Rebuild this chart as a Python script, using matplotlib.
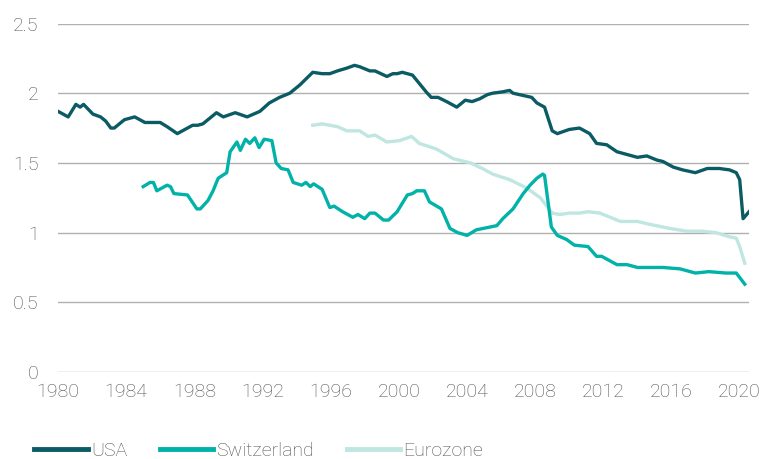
import matplotlib.pyplot as plt

# values
usa_years = [1980.0, 1980.6, 1981.05, 1981.3, 1981.5, 1982.05, 1982.5, 1982.8, 1983.1, 1983.3,
             1983.9, 1984.5, 1985.1, 1986.0, 1986.4, 1987.0, 1987.45, 1987.9, 1988.2, 1988.5,
             1989.3, 1989.7, 1990.4, 1991.1, 1991.85, 1992.4, 1993.0, 1993.6, 1994.2, 1994.95,
             1995.5, 1995.95, 1996.4, 1996.95, 1997.4, 1997.7, 1998.3, 1998.6, 1999.3, 1999.65,
             1999.9, 2000.2, 2000.8, 2001.2, 2001.6, 2001.9, 2002.3, 2002.8, 2003.4, 2003.9,
             2004.3, 2004.75, 2005.2, 2005.5, 2006.1, 2006.5, 2006.7, 2007.8, 2008.1, 2008.55,
             2009.0, 2009.3, 2010.0, 2010.6, 2011.2, 2011.6, 2012.2, 2012.8, 2013.4, 2014.0,
             2014.55, 2015.15, 2015.5, 2016.1, 2016.65, 2017.4, 2018.1, 2018.8, 2019.4, 2019.8,
             2020.0, 2020.2, 2020.55]
usa_vals = [1.87, 1.83, 1.92, 1.90, 1.92, 1.85, 1.83, 1.80, 1.75, 1.75,
            1.81, 1.83, 1.79, 1.79, 1.76, 1.71, 1.74, 1.77, 1.77, 1.78,
            1.86, 1.83, 1.86, 1.83, 1.87, 1.93, 1.97, 2.00, 2.06, 2.15,
            2.14, 2.14, 2.16, 2.18, 2.20, 2.19, 2.16, 2.16, 2.12, 2.14,
            2.14, 2.15, 2.13, 2.07, 2.01, 1.97, 1.97, 1.94, 1.90, 1.95,
            1.94, 1.96, 1.99, 2.00, 2.01, 2.02, 2.00, 1.97, 1.93, 1.90,
            1.73, 1.71, 1.74, 1.75, 1.71, 1.64, 1.63, 1.58, 1.56, 1.54,
            1.55, 1.52, 1.51, 1.47, 1.45, 1.43, 1.46, 1.46, 1.45, 1.43,
            1.38, 1.10, 1.15]

swiss_years = [1985.0, 1985.4, 1985.6, 1985.8, 1986.4, 1986.6, 1986.8, 1987.6, 1988.15, 1988.35,
               1988.8, 1989.1, 1989.4, 1989.9, 1990.1, 1990.5, 1990.7, 1991.0, 1991.25, 1991.55,
               1991.8, 1992.1, 1992.55, 1992.8, 1993.1, 1993.5, 1993.8, 1994.3, 1994.55, 1994.8,
               1995.0, 1995.5, 1995.95, 1996.2, 1996.7, 1997.3, 1997.6, 1998.0, 1998.3, 1998.6,
               1999.1, 1999.4, 1999.9, 2000.25, 2000.5, 2000.8, 2001.05, 2001.5, 2001.8, 2002.5,
               2003.0, 2003.45, 2004.0, 2004.55, 2005.75, 2006.1, 2006.7, 2007.3, 2007.7, 2008.1,
               2008.45, 2008.55, 2008.95, 2009.3, 2009.85, 2010.3, 2011.1, 2011.6, 2011.9, 2012.8,
               2013.4, 2014.0, 2014.55, 2015.5, 2016.5, 2017.4, 2018.2, 2019.2, 2019.8, 2020.3]
swiss_vals = [1.33, 1.36, 1.36, 1.30, 1.34, 1.33, 1.28, 1.27, 1.17, 1.17,
              1.23, 1.30, 1.39, 1.43, 1.58, 1.65, 1.59, 1.67, 1.64, 1.68,
              1.61, 1.67, 1.66, 1.50, 1.46, 1.45, 1.36, 1.34, 1.36, 1.33,
              1.35, 1.31, 1.18, 1.19, 1.15, 1.11, 1.13, 1.10, 1.14, 1.14,
              1.09, 1.09, 1.15, 1.22, 1.27, 1.28, 1.30, 1.30, 1.22, 1.17,
              1.03, 1.00, 0.98, 1.02, 1.05, 1.10, 1.17, 1.28, 1.34, 1.39,
              1.42, 1.41, 1.04, 0.98, 0.95, 0.91, 0.90, 0.83, 0.83, 0.77,
              0.77, 0.75, 0.75, 0.75, 0.74, 0.71, 0.72, 0.71, 0.71, 0.63]

euro_years = [1994.95, 1995.5, 1996.4, 1996.95, 1997.7, 1998.2, 1998.6, 1999.3, 2000.05, 2000.75,
              2001.2, 2002.2, 2003.2, 2004.2, 2004.9, 2005.5, 2006.5, 2007.5, 2008.3, 2009.0,
              2009.45, 2010.0, 2010.6, 2011.1, 2011.8, 2012.4, 2013.0, 2014.0, 2014.7, 2015.9,
              2016.9, 2017.8, 2018.6, 2019.4, 2019.8, 2020.0, 2020.3]
euro_vals = [1.77, 1.78, 1.76, 1.73, 1.73, 1.69, 1.70, 1.65, 1.66, 1.69,
             1.64, 1.60, 1.53, 1.50, 1.46, 1.42, 1.38, 1.32, 1.25, 1.14,
             1.13, 1.14, 1.14, 1.15, 1.14, 1.11, 1.08, 1.08, 1.06, 1.03,
             1.01, 1.01, 1.00, 0.97, 0.96, 0.90, 0.78]

x_ticks = list(range(1980, 2021, 4))
y_ticks = [0, 0.5, 1, 1.5, 2, 2.5]
y_labels = ['0', '0.5', '1', '1.5', '2', '2.5']

plt.rcParams['font.family'] = ['Roboto', 'DejaVu Sans']
plt.rcParams['font.weight'] = 'light'

fig = plt.figure(figsize=(7.67, 4.59), dpi=100)
ax = fig.add_axes([0.0756, 0.1895, 0.901, 0.7593])

ax.plot(usa_years, usa_vals, color='#0b5b65', lw=2.4, label='USA', zorder=3)
ax.plot(swiss_years, swiss_vals, color='#00b2a8', lw=2.4, label='Switzerland', zorder=3)
ax.plot(euro_years, euro_vals, color='#bfe6e0', lw=2.4, label='Eurozone', zorder=2)

ax.set_xlim(1980, 2020.55)
ax.set_ylim(0, 2.5)
ax.set_yticks(y_ticks)
ax.set_yticklabels(y_labels)
ax.set_xticks(x_ticks)
ax.grid(axis='y', color='#b0b0b0', lw=1)
ax.set_axisbelow(True)
for s in ax.spines.values():
    s.set_visible(False)
ax.tick_params(axis='y', length=0, pad=14, labelsize=14, labelcolor='#505050')
ax.tick_params(axis='x', length=0, pad=8, labelsize=14, labelcolor='#505050')

fig.legend(loc='lower left', bbox_to_anchor=(0.022, -0.04), ncol=3, frameon=False,
           fontsize=14, handlelength=2.75, handletextpad=0.15, columnspacing=1.7,
           labelcolor='#505050')
for line in fig.legends[0].get_lines():
    line.set_linewidth(3.5)

fig.savefig('out.png', dpi=100)
